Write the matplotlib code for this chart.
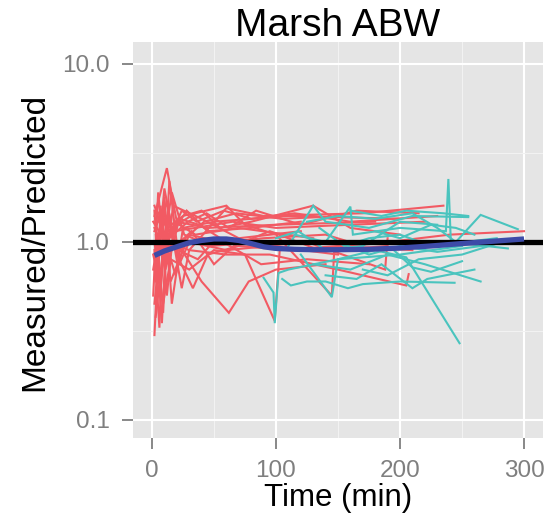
import matplotlib
matplotlib.use("Agg")
import matplotlib.pyplot as plt
from matplotlib.ticker import FixedLocator, NullFormatter

plt.rcParams['font.family'] = ['Liberation Sans', 'DejaVu Sans']

title = "Marsh ABW"
xlabel = "Time (min)"
ylabel = "Measured/Predicted"
xticks = [0, 100, 200, 300]
yticks = [0.1, 1.0, 10.0]
ytick_labels = ["0.1", "1.0", "10.0"]

# Group 1 (red) subject profiles: (times, ratios)
red_subjects = [
    ([2, 12, 20, 45, 100, 180], [1.4, 2.6, 1.3, 1.2, 1.25, 1.3]),
    ([2, 7, 12, 18, 35, 70, 130], [0.3, 1.6, 0.5, 1.3, 1.1, 1.2, 1.05]),
    ([3, 8, 14, 22, 30, 60, 95, 150], [1.1, 0.35, 2.2, 0.75, 1.0, 0.9, 0.95, 0.85]),
    ([2, 6, 10, 16, 25, 50, 110, 200], [0.9, 0.33, 1.8, 0.45, 1.2, 1.3, 1.4, 1.35]),
    ([3, 9, 13, 24, 30, 60, 90, 170, 235], [1.3, 0.4, 1.5, 0.55, 0.9, 1.55, 1.4, 1.45, 1.6]),
    ([1, 5, 11, 17, 40, 70, 120], [0.5, 1.9, 0.7, 1.6, 1.35, 1.05, 1.15]),
    ([2, 10, 20, 40, 62, 78, 100, 140], [1.2, 0.9, 1.0, 0.6, 0.4, 0.6, 0.7, 0.75]),
    ([2, 9, 15, 30, 50, 75, 99, 103, 150, 210], [1.0, 0.45, 0.8, 0.7, 0.9, 0.85, 0.36, 0.9, 0.95, 0.9]),
    ([4, 12, 25, 40, 55, 80, 130, 160, 200], [1.5, 1.2, 1.4, 1.5, 1.2, 1.3, 1.6, 1.2, 1.1]),
    ([3, 14, 30, 60, 95, 150, 205, 207], [0.8, 1.0, 0.9, 0.85, 0.85, 0.7, 0.57, 0.66]),
    ([2, 10, 20, 35, 60, 75, 100, 145, 147, 190], [1.6, 1.1, 1.25, 1.45, 1.6, 1.25, 1.1, 0.5, 0.9, 0.95]),
    ([1, 8, 15, 30, 55, 90, 125, 188, 190], [0.7, 1.4, 0.6, 1.1, 1.0, 0.95, 1.0, 0.7, 1.05]),
    ([3, 10, 18, 35, 65, 100, 160, 220], [1.25, 1.45, 1.15, 1.2, 1.3, 1.2, 1.25, 1.3]),
    ([2, 8, 13, 22, 38, 60, 90, 140, 170], [0.45, 1.2, 0.75, 1.35, 1.25, 1.0, 1.05, 1.1, 0.95]),
    ([5, 12, 20, 33, 45, 70, 110], [1.0, 1.7, 0.85, 0.55, 0.85, 0.95, 0.9]),
    ([3, 20, 60, 120, 180, 240, 300], [1.0, 0.95, 1.05, 0.9, 0.98, 1.1, 1.15]),
    ([2, 6, 12, 28, 45, 80, 120], [1.5, 0.6, 1.0, 1.5, 1.15, 1.2, 1.3]),
    ([3, 9, 16, 26, 48, 85], [0.38, 0.9, 1.9, 1.1, 0.95, 1.0]),
    ([1, 11, 19, 27, 42, 68, 105, 155], [1.3, 1.0, 0.65, 1.05, 1.3, 1.45, 1.35, 1.4]),
    ([4, 13, 21, 37, 52, 88, 125, 175], [0.75, 1.3, 0.9, 0.8, 1.05, 0.75, 0.8, 0.75]),
    ([2, 8, 14, 24, 36, 58, 80, 115, 160, 230], [1.15, 1.5, 1.05, 1.5, 1.3, 1.5, 1.35, 1.45, 1.3, 1.4]),
    ([1, 7, 12, 19, 32, 50, 66, 95, 135], [0.85, 0.55, 1.25, 0.95, 1.15, 0.75, 0.95, 1.15, 0.9]),
    ([3, 10, 17, 29, 44, 62, 84, 120, 165, 215], [0.6, 2.0, 1.1, 1.3, 1.45, 1.2, 1.5, 1.25, 1.5, 1.45]),
]

# Group 2 (teal) subject profiles
teal_subjects = [
    ([90, 98, 99, 102, 110, 150, 200, 250], [0.63, 0.52, 0.35, 0.67, 0.7, 0.8, 0.85, 0.95]),
    ([105, 112, 125, 140, 158, 170, 200, 244], [0.62, 0.57, 0.6, 0.6, 0.55, 0.58, 0.6, 0.59]),
    ([110, 130, 140, 175, 210, 255], [0.95, 1.6, 1.3, 1.2, 1.4, 1.38]),
    ([115, 140, 160, 162, 200, 237, 239, 241, 287], [1.1, 1.0, 1.58, 1.1, 1.2, 1.15, 2.26, 1.0, 0.92]),
    ([120, 145, 150, 180, 205, 248], [0.85, 0.49, 0.8, 0.9, 0.82, 0.27]),
    ([125, 150, 180, 210, 230, 245, 265, 295], [1.3, 1.4, 1.35, 1.45, 1.2, 1.0, 1.42, 1.18]),
    ([130, 160, 190, 220, 265], [0.75, 0.7, 0.85, 0.75, 0.60]),
    ([135, 155, 175, 200, 225, 278], [1.2, 0.95, 1.05, 1.1, 0.95, 1.05]),
    ([100, 118, 140, 170, 200, 230], [1.05, 1.15, 0.9, 0.95, 1.3, 1.25]),
    ([140, 165, 185, 210, 222, 260], [0.65, 0.62, 0.75, 0.55, 0.62, 0.7]),
    ([150, 175, 200, 230, 280], [1.0, 0.85, 0.95, 0.88, 0.98]),
    ([160, 185, 205, 235, 255], [1.5, 1.4, 1.5, 1.45, 1.4]),
    ([170, 190, 215, 250, 282], [0.7, 0.65, 0.8, 0.85, 1.0]),
    ([180, 200, 225, 245, 260], [1.15, 1.05, 1.25, 1.2, 1.1]),
    ([195, 210, 225, 250], [0.9, 0.72, 0.68, 0.78]),
]

# Smoothed trend
smooth_t = [2, 10, 20, 30, 40, 50, 60, 70, 80, 90, 100, 115, 130, 150, 175, 200, 225, 250, 275, 300]
smooth_r = [0.84, 0.89, 0.94, 0.99, 1.02, 1.04, 1.04, 1.02, 0.98, 0.94, 0.92, 0.91, 0.905, 0.905, 0.91, 0.925, 0.95, 0.98, 1.01, 1.04]

RED = '#F25A63'
TEAL = '#4AC4BE'
BLUE = '#3D4BA8'
GREY = '#7F7F7F'

W, H = 551, 524
fig = plt.figure(figsize=(W / 100, H / 100), dpi=100)
ax = fig.add_axes([133/W, 1-438/H, (543-133)/W, (438-42)/H])
ax.set_facecolor('#E5E5E5')
ax.set_yscale('log')
ax.set_xlim(-15.3, 315.3)
ax.set_ylim(10**(-196/178), 10**(200/178))

# grid
ax.xaxis.set_major_locator(FixedLocator(xticks))
ax.xaxis.set_minor_locator(FixedLocator([50, 150, 250]))
ax.yaxis.set_major_locator(FixedLocator(yticks))
ax.yaxis.set_minor_locator(FixedLocator([10**-0.5, 10**0.5]))
ax.yaxis.set_minor_formatter(NullFormatter())
ax.grid(which='major', color='white', linewidth=1.5)
ax.grid(which='minor', color='#F2F2F2', linewidth=0.8)
ax.set_axisbelow(True)
for s in ax.spines.values():
    s.set_visible(False)

for t, r in red_subjects:
    ax.plot(t, r, color=RED, linewidth=1.5, solid_joinstyle='miter')
for t, r in teal_subjects:
    ax.plot(t, r, color=TEAL, linewidth=1.5, solid_joinstyle='miter')

ax.axhline(1.0, color='black', linewidth=3.8, zorder=5)
ax.plot(smooth_t, smooth_r, color=BLUE, linewidth=3.8, zorder=6, solid_capstyle='butt')

ax.set_xticklabels([str(v) for v in xticks])
ax.set_yticklabels(ytick_labels)
ax.tick_params(which='major', colors=GREY, labelsize=17.5, length=8, width=1.3)
ax.tick_params(axis='x', which='major', pad=8)
ax.tick_params(axis='y', which='major', pad=9)
ax.tick_params(which='minor', length=0)

fig.text(338/W, 1-36.5/H, title, fontsize=28, ha='center', va='baseline')
fig.text(338/W, 1-506/H, xlabel, fontsize=22.5, ha='center', va='baseline')
fig.text(43/W, 1-242/H, ylabel, fontsize=24, ha='center', va='baseline',
         rotation=90, rotation_mode='anchor')

fig.savefig('out.png', dpi=100)
